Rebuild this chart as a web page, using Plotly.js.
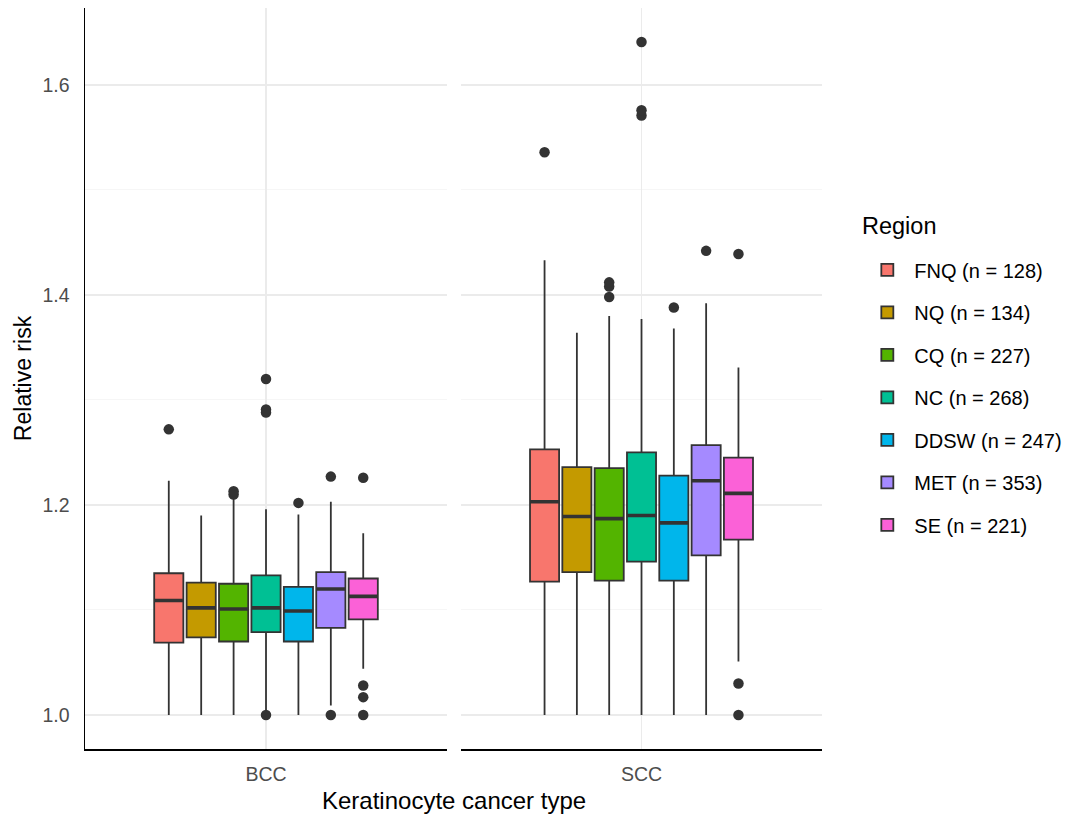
<!DOCTYPE html>
<html>
<head>
<meta charset="utf-8">
<script src="https://cdn.plot.ly/plotly-3.0.1.min.js"></script>
<style>html,body{margin:0;padding:0;background:#fff;}#chart{width:1086px;height:816px;}</style>
</head>
<body>
<div id="chart"></div>
<script>
// ---- data ----
const cancerTypes = ['BCC', 'SCC'];
const regions = ['FNQ', 'NQ', 'CQ', 'NC', 'DDSW', 'MET', 'SE'];
const regionN = [128, 134, 227, 268, 247, 353, 221];
const regionColors = ['#F8766D', '#C49A00', '#53B400', '#00C094', '#00B6EB', '#A58AFF', '#FB61D7'];

// BCC
const bccLowerWhisker = [1.000, 1.000, 1.000, 1.003, 1.000, 1.009, 1.044];
const bccQ1           = [1.069, 1.074, 1.070, 1.079, 1.070, 1.083, 1.091];
const bccMedian       = [1.109, 1.102, 1.101, 1.102, 1.099, 1.120, 1.113];
const bccQ3           = [1.135, 1.126, 1.125, 1.133, 1.122, 1.136, 1.130];
const bccUpperWhisker = [1.223, 1.190, 1.206, 1.196, 1.191, 1.203, 1.173];
const bccOutliers = [[1.272], [], [1.210, 1.213], [1.000, 1.288, 1.291, 1.320], [1.202], [1.000, 1.227], [1.000, 1.017, 1.028, 1.226]];

// SCC
const sccLowerWhisker = [1.000, 1.000, 1.000, 1.000, 1.000, 1.000, 1.051];
const sccQ1           = [1.127, 1.136, 1.128, 1.146, 1.128, 1.152, 1.167];
const sccMedian       = [1.203, 1.189, 1.187, 1.190, 1.183, 1.223, 1.211];
const sccQ3           = [1.253, 1.236, 1.235, 1.250, 1.228, 1.257, 1.245];
const sccUpperWhisker = [1.433, 1.364, 1.380, 1.377, 1.368, 1.392, 1.331];
const sccOutliers = [[1.536], [], [1.398, 1.408, 1.412], [1.571, 1.576, 1.641], [1.388], [1.442], [1.000, 1.030, 1.439]];

const yTicks = [1.0, 1.2, 1.4, 1.6];
const yTickLabels = ['1.0', '1.2', '1.4', '1.6'];

// ---- build traces ----
const FONT = 'Liberation Sans, Arial, Helvetica, sans-serif';
const panels = [
  {cat: cancerTypes[0], xa: 'x', lo: bccLowerWhisker, q1: bccQ1, med: bccMedian, q3: bccQ3, hi: bccUpperWhisker, out: bccOutliers},
  {cat: cancerTypes[1], xa: 'x2', lo: sccLowerWhisker, q1: sccQ1, med: sccMedian, q3: sccQ3, hi: sccUpperWhisker, out: sccOutliers}
];
const traces = [];
const medianTraces = [];
panels.forEach((p, pi) => {
  regions.forEach((r, i) => {
    const t = {
      type: 'box',
      name: r + ' (n = ' + regionN[i] + ')',
      legendgroup: r,
      offsetgroup: r,
      showlegend: pi === 0,
      xaxis: p.xa, yaxis: 'y',
      x: [p.cat],
      q1: [p.q1[i]], median: [p.med[i]], q3: [p.q3[i]],
      lowerfence: [p.lo[i]], upperfence: [p.hi[i]],
      boxpoints: p.out[i].length ? 'outliers' : false,
      jitter: 0, pointpos: 0,
      whiskerwidth: 0,
      fillcolor: regionColors[i],
      line: {color: '#333333', width: 1.8},
      marker: {color: '#333333', size: 10.5, outliercolor: '#333333', line: {width: 0}},
      hoverinfo: 'y'
    };
    if (p.out[i].length) t.y = [p.out[i]];
    traces.push(t);
    // thick median bar (ggplot draws the median with a fatter line)
    medianTraces.push({
      type: 'box',
      name: r + ' median',
      legendgroup: r,
      offsetgroup: r,
      showlegend: false,
      xaxis: p.xa, yaxis: 'y',
      x: [p.cat],
      q1: [p.med[i]], median: [p.med[i]], q3: [p.med[i]],
      lowerfence: [p.med[i]], upperfence: [p.med[i]],
      boxpoints: false, whiskerwidth: 0,
      fillcolor: 'rgba(0,0,0,0)',
      line: {color: '#333333', width: 3.6},
      hoverinfo: 'skip'
    });
  });
});

const xBase = {
  type: 'category', range: [-0.6, 0.6], anchor: 'y',
  showline: true, linecolor: '#000000', linewidth: 1.5,
  showgrid: true, gridcolor: '#EBEBEB', gridwidth: 1.1,
  zeroline: false, ticks: '', ticklabelstandoff: 7,
  tickfont: {family: FONT, size: 19.5, color: '#4D4D4D'},
  fixedrange: true
};

const layout = {
  width: 1086, height: 816,
  margin: {l: 85, r: 264, t: 8, b: 67},
  paper_bgcolor: '#ffffff', plot_bgcolor: '#ffffff',
  font: {family: FONT, color: '#000000'},
  boxmode: 'group', boxgap: 0.248, boxgroupgap: 0.1,
  xaxis: Object.assign({}, xBase, {domain: [0, 0.4912]}),
  xaxis2: Object.assign({}, xBase, {domain: [0.5102, 1]}),
  yaxis: {
    range: [0.9676, 1.6733], anchor: 'x',
    tickvals: yTicks, ticktext: yTickLabels,
    showline: true, linecolor: '#000000', linewidth: 1.5,
    showgrid: true, gridcolor: '#EBEBEB', gridwidth: 1.1,
    minor: {tick0: 1.1, dtick: 0.2, showgrid: true, gridcolor: '#F2F2F2', gridwidth: 0.7},
    zeroline: false, ticks: '', ticklabelstandoff: 10,
    tickfont: {family: FONT, size: 19.5, color: '#4D4D4D'},
    title: {text: 'Relative risk', font: {family: FONT, size: 23, color: '#000000'}, standoff: 4},
    fixedrange: true
  },
  annotations: [
    {
      text: 'Keratinocyte cancer type', xref: 'paper', yref: 'paper',
      x: 0.5, y: 0, xanchor: 'center', yanchor: 'middle', yshift: -51,
      showarrow: false, font: {family: FONT, size: 24, color: '#000000'}
    },
    {
      text: 'Region', xref: 'paper', yref: 'paper',
      x: 1.0516, y: 0.7057, xanchor: 'left', yanchor: 'middle',
      showarrow: false, font: {family: FONT, size: 23.5, color: '#000000'}
    }
  ],
  legend: {
    x: 1.052, xanchor: 'left', y: 0.673, yanchor: 'top',
    font: {family: FONT, size: 20, color: '#000000'},
    tracegroupgap: 13.5, itemwidth: 44, bgcolor: 'rgba(0,0,0,0)'
  },
  showlegend: true
};

Plotly.newPlot('chart', traces.concat(medianTraces), layout, {displayModeBar: false, staticPlot: true});
</script>
</body>
</html>
